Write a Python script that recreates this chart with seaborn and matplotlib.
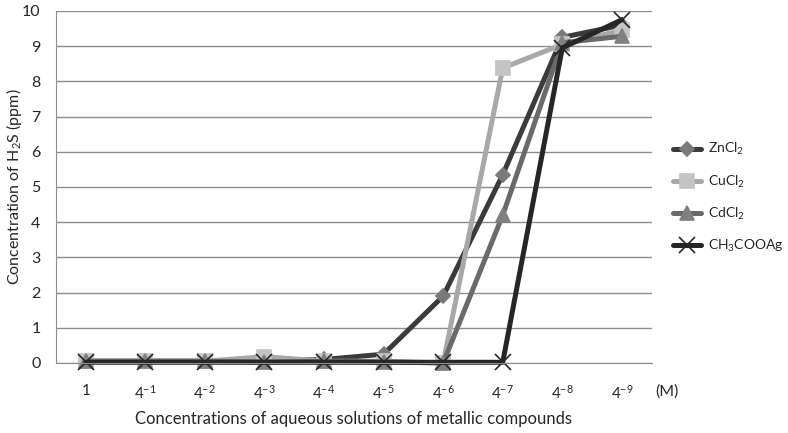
import numpy as np
import pandas as pd
import matplotlib
matplotlib.use("Agg")
import matplotlib.pyplot as plt
import seaborn as sns

CATEGORIES = ["1", "4$^{-1}$", "4$^{-2}$", "4$^{-3}$", "4$^{-4}$", "4$^{-5}$",
              "4$^{-6}$", "4$^{-7}$", "4$^{-8}$", "4$^{-9}$"]
ZNCL2 = [0.05, 0.05, 0.05, 0.05, 0.10, 0.25, 1.90, 5.35, 9.25, 9.60]
CUCL2 = [0.05, 0.05, 0.05, 0.18, 0.05, 0.05, 0.00, 8.38, 9.05, 9.45]
CDCL2 = [0.05, 0.05, 0.05, 0.03, 0.05, 0.03, 0.00, 4.20, 9.10, 9.28]
AG = [0.02, 0.02, 0.02, 0.02, 0.02, 0.02, 0.02, 0.02, 8.95, 9.75]

SERIES = [
    ("ZnCl$_2$", ZNCL2, "#3b3b3b", "D", 7, "#7a7a7a"),
    ("CuCl$_2$", CUCL2, "#a8a8a8", "s", 10, "#c4c4c4"),
    ("CdCl$_2$", CDCL2, "#6a6a6a", "^", 10, "#808080"),
    ("CH$_3$COOAg", AG, "#262626", "x", 11, "#262626"),
]

sns.set_style("white")
plt.rcParams["font.family"] = ["Lato", "DejaVu Sans"]
plt.rcParams["mathtext.fontset"] = "custom"
plt.rcParams["mathtext.rm"] = "Lato"
plt.rcParams["mathtext.it"] = "Lato"

fig = plt.figure(figsize=(7.88, 4.33), dpi=100)
ax = fig.add_axes([0.071, 0.1617, 0.756, 0.813])

x = np.arange(len(CATEGORIES))
for name, vals, color, marker, ms, mfc in SERIES:
    df = pd.DataFrame({"x": x, "y": vals})
    sns.lineplot(data=df, x="x", y="y", ax=ax, color=color, linewidth=3.6,
                 marker=marker, markersize=ms, markerfacecolor=mfc,
                 markeredgecolor=color if marker == "x" else mfc,
                 markeredgewidth=1.2, label=name, clip_on=False)

ax.set_xlim(-0.5, 9.5)
ax.set_ylim(0, 10)
ax.set_yticks(range(0, 11))
ax.yaxis.grid(True, color="#8c8c8c", linewidth=1.0)
ax.set_axisbelow(True)
ax.set_xticks(x)
ax.set_xticklabels(CATEGORIES, fontsize=11)
ax.tick_params(axis="x", length=0, pad=15)
ax.set_xticks(np.arange(-0.5, 10, 1), minor=True)
ax.tick_params(axis="x", which="minor", length=5, color="#8c8c8c", direction="out")
ax.tick_params(axis="y", length=5, color="#8c8c8c", direction="out", labelsize=11.5, pad=6)
for s in ["top", "right"]:
    ax.spines[s].set_visible(False)
for s in ["left", "bottom"]:
    ax.spines[s].set_color("#8c8c8c")

ax.annotate("(M)", xy=(9.56, -0.08), xycoords=("data", "axes fraction"),
            fontsize=11.5, ha="left", va="center", annotation_clip=False)
ax.set_xlabel("Concentrations of aqueous solutions of metallic compounds", fontsize=12, labelpad=7)
ax.set_ylabel("Concentration of H$_2$S (ppm)", fontsize=11.5)
ax.yaxis.set_label_coords(-0.054, 0.5)

ax.legend(loc="center left", bbox_to_anchor=(1.015, 0.47), frameon=False, fontsize=10,
          handlelength=2.0, labelspacing=1.15, handletextpad=0.5)

fig.savefig("out.png", dpi=100)
